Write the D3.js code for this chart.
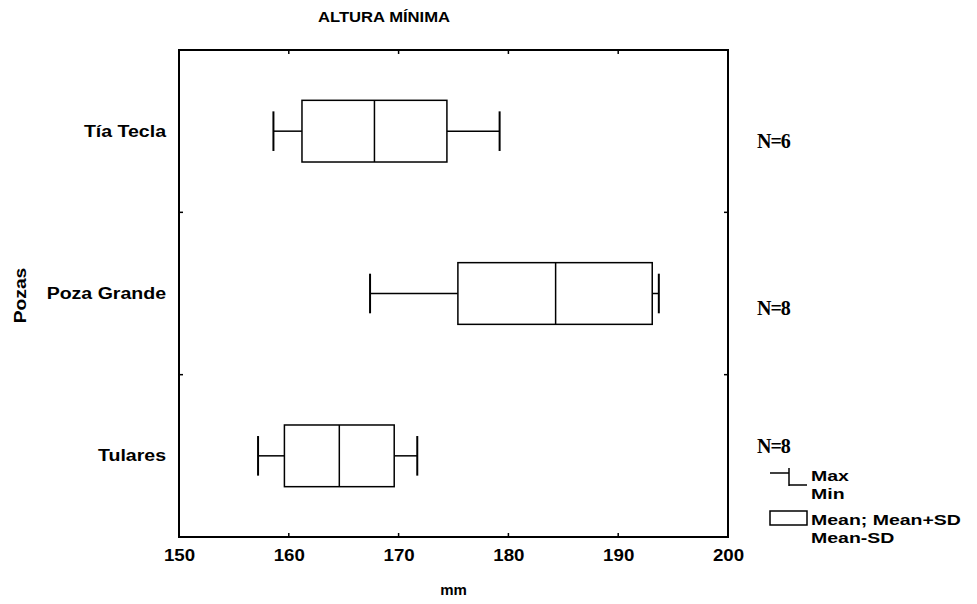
<!DOCTYPE html>
<html>
<head>
<meta charset="utf-8">
<script src="https://cdn.jsdelivr.net/npm/d3@7"></script>
<style>
  html, body { margin: 0; padding: 0; background: #fff; }
  svg { display: block; }
  text { font-family: Arial, "Liberation Sans", sans-serif; font-weight: bold; fill: #000; }
</style>
</head>
<body>
<svg id="chart" width="977" height="604"></svg>
<script>
// ---- data ----
const categories = ["Tía Tecla", "Poza Grande", "Tulares"];
const minValues  = [158.6, 167.4, 157.2];
const sdLow      = [161.2, 175.4, 159.6];   // Mean - SD
const meanValues = [167.8, 184.3, 164.6];
const sdHigh     = [174.4, 193.1, 169.6];   // Mean + SD
const maxValues  = [179.2, 193.7, 171.7];
const nLabels    = ["N=6", "N=8", "N=8"];
const xTicks     = [150, 160, 170, 180, 190, 200];
const titleText  = "ALTURA MÍNIMA";
const xTitle     = "mm";
const yTitle     = "Pozas";
const legendItems = ["Max", "Min", "Mean; Mean+SD", "Mean-SD"];

// ---- layout ----
const W = 977, H = 604;
const margin = { top: 50, right: 249, bottom: 67, left: 179 };
const svg = d3.select("#chart");

const x = d3.scaleLinear().domain([150, 200]).range([margin.left, W - margin.right]);
const y = d3.scaleBand().domain(categories).range([margin.top, H - margin.bottom]).padding(0);
const bw = y.bandwidth();
const boxHalf = bw * 0.19;
const capHalf = bw * 0.122;

const rows = categories.map((c, i) => ({
  cat: c, min: minValues[i], lo: sdLow[i], mean: meanValues[i], hi: sdHigh[i], max: maxValues[i], n: nLabels[i]
}));

// frame
svg.append("rect")
  .attr("x", x(150)).attr("y", margin.top)
  .attr("width", x(200) - x(150)).attr("height", H - margin.bottom - margin.top)
  .attr("fill", "none").attr("stroke", "#000").attr("stroke-width", 2);

// x axis (bottom)
const xAxis = d3.axisBottom(x).tickValues(xTicks).tickSize(0).tickPadding(12).tickFormat(d3.format("d"));
const gx = svg.append("g").attr("transform", `translate(0,${H - margin.bottom})`).call(xAxis);
gx.select(".domain").remove();
gx.selectAll("text").style("font-size", "17px")
  .attr("font-family", "Arial, 'Liberation Sans', sans-serif")
  .attr("transform", "scale(1.1,1)");

// inward tick marks on bottom and top
const inner = xTicks.slice(1, -1);
svg.append("g").selectAll("line").data(inner).join("line")
  .attr("x1", d => x(d)).attr("x2", d => x(d))
  .attr("y1", H - margin.bottom).attr("y2", H - margin.bottom - 4)
  .attr("stroke", "#000").attr("stroke-width", 1.5);
svg.append("g").selectAll("line").data(inner).join("line")
  .attr("x1", d => x(d)).attr("x2", d => x(d))
  .attr("y1", margin.top).attr("y2", margin.top + 4)
  .attr("stroke", "#000").attr("stroke-width", 1.5);

// inward ticks at category boundaries (left & right)
const bounds = categories.slice(1).map(c => y(c));
svg.append("g").selectAll("line").data(bounds).join("line")
  .attr("x1", x(150)).attr("x2", x(150) + 4).attr("y1", d => d).attr("y2", d => d)
  .attr("stroke", "#000").attr("stroke-width", 1.5);
svg.append("g").selectAll("line").data(bounds).join("line")
  .attr("x1", x(200)).attr("x2", x(200) - 4).attr("y1", d => d).attr("y2", d => d)
  .attr("stroke", "#000").attr("stroke-width", 1.5);

// y axis labels
const yAxis = d3.axisLeft(y).tickSize(0).tickPadding(13);
const gy = svg.append("g").attr("transform", `translate(${margin.left},0)`).call(yAxis);
gy.select(".domain").remove();
gy.selectAll("text").style("font-size", "17px")
  .attr("font-family", "Arial, 'Liberation Sans', sans-serif")
  .attr("x", -13 / 1.15)
  .attr("transform", "scale(1.15,1)");

// boxes
const g = svg.append("g");
rows.forEach(r => {
  const cy = y(r.cat) + bw / 2;
  g.append("line").attr("x1", x(r.min)).attr("x2", x(r.lo)).attr("y1", cy).attr("y2", cy)
    .attr("stroke", "#000").attr("stroke-width", 1.5);
  g.append("line").attr("x1", x(r.hi)).attr("x2", x(r.max)).attr("y1", cy).attr("y2", cy)
    .attr("stroke", "#000").attr("stroke-width", 1.5);
  [r.min, r.max].forEach(v => {
    g.append("line").attr("x1", x(v)).attr("x2", x(v)).attr("y1", cy - capHalf).attr("y2", cy + capHalf)
      .attr("stroke", "#000").attr("stroke-width", 2);
  });
  g.append("rect").attr("x", x(r.lo)).attr("y", cy - boxHalf)
    .attr("width", x(r.hi) - x(r.lo)).attr("height", 2 * boxHalf)
    .attr("fill", "#fff").attr("stroke", "#000").attr("stroke-width", 1.5);
  g.append("line").attr("x1", x(r.mean)).attr("x2", x(r.mean)).attr("y1", cy - boxHalf).attr("y2", cy + boxHalf)
    .attr("stroke", "#000").attr("stroke-width", 1.5);
});

// N labels
const nDy = [17, 21, -3];
svg.append("g").selectAll("text").data(rows).join("text")
  .attr("x", x(200) + 29)
  .attr("y", (d, i) => y(d.cat) + bw / 2 + nDy[i])
  .style("font-family", "'Times New Roman', 'Liberation Serif', serif")
  .style("font-size", "20px").style("letter-spacing", "-1px")
  .text(d => d.n);

// titles
svg.append("text").attr("transform", "translate(318,22) scale(1.11,1)").style("font-size", "15px").text(titleText);
svg.append("text").attr("x", (x(150) + x(200)) / 2).attr("y", 595).attr("text-anchor", "middle")
  .style("font-size", "15px").text(xTitle);
svg.append("text").attr("transform", `translate(26,${margin.top + (H - margin.bottom - margin.top) / 2 + 2}) rotate(-90) scale(1.2,1)`)
  .attr("text-anchor", "middle").style("font-size", "16px").text(yTitle);

// legend
const lg = svg.append("g");
const lx = 770;
lg.append("line").attr("x1", lx).attr("x2", lx + 19).attr("y1", 473).attr("y2", 473).attr("stroke", "#000").attr("stroke-width", 1.5);
lg.append("line").attr("x1", lx + 19).attr("x2", lx + 19).attr("y1", 468).attr("y2", 486).attr("stroke", "#000").attr("stroke-width", 1.5);
lg.append("line").attr("x1", lx + 19).attr("x2", lx + 37).attr("y1", 485).attr("y2", 485).attr("stroke", "#000").attr("stroke-width", 1.5);
lg.append("rect").attr("x", lx).attr("y", 511).attr("width", 37).attr("height", 14)
  .attr("fill", "#fff").attr("stroke", "#000").attr("stroke-width", 1.5);
const legendY = [481, 499, 525, 543];
lg.selectAll("text").data(legendItems).join("text")
  .attr("transform", (d, i) => `translate(811,${legendY[i]}) scale(1.3,1)`)
  .style("font-size", "15px").text(d => d);
</script>
</body>
</html>
